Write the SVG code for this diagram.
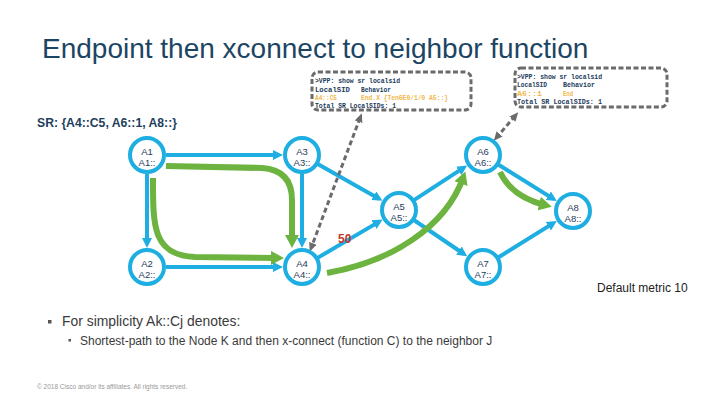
<svg xmlns="http://www.w3.org/2000/svg" width="720" height="405" viewBox="0 0 720 405">
<style>
.node circle{fill:#fff;stroke:#1eaee2;stroke-width:4}
.node text{font-family:"Liberation Sans",Arial,sans-serif;font-size:9.5px;fill:#1d3d5c;text-anchor:middle}
.blue{stroke:#1eaee2;stroke-width:4;fill:none;marker-end:url(#ab)}
.green{stroke:#6db33f;stroke-width:6;fill:none;marker-end:url(#ag)}
.dash{stroke:#6b6b6b;stroke-width:3;fill:none;stroke-dasharray:5,3;marker-start:url(#ad);marker-end:url(#ad)}
.box{fill:#fff;stroke:#6b6b6b;stroke-width:3;stroke-dasharray:5,2.5}
.term{font-family:"Liberation Mono","DejaVu Sans Mono",monospace;font-size:7px;font-weight:bold;fill:#1d3d5c}
.y{fill:#f0b84a}
</style>
<defs>
<marker id="ab" markerUnits="userSpaceOnUse" markerWidth="10" markerHeight="10" refX="6" refY="5" orient="auto"><path d="M0,0 L10,5 L0,10 z" fill="#1eaee2"/></marker>
<marker id="ag" markerUnits="userSpaceOnUse" markerWidth="13" markerHeight="14" refX="6" refY="7" orient="auto"><path d="M0,0 L13,7 L0,14 z" fill="#6db33f"/></marker>
<marker id="ad" markerUnits="userSpaceOnUse" markerWidth="9" markerHeight="8" refX="4" refY="4" orient="auto-start-reverse"><path d="M0,0 L9,4 L0,8 z" fill="#6b6b6b"/></marker>
</defs>
<rect width="720" height="405" fill="#fff"/>
<text x="42" y="58" font-family="Liberation Sans,Arial,sans-serif" font-size="28" fill="#1c4563">Endpoint then xconnect to neighbor function</text>
<text x="37" y="127" font-family="Liberation Sans,Arial,sans-serif" font-size="12.2" font-weight="bold" fill="#1d3d5c">SR: {A4::C5, A6::1, A8::}</text>

<g id="terminal1">
<rect class="box" x="312" y="72" width="159" height="38" rx="6"/>
<text class="term" x="315" y="82.5" textLength="85" lengthAdjust="spacingAndGlyphs">&gt;VPP: show sr localsid</text>
<text class="term" x="315" y="91.5" textLength="35" lengthAdjust="spacingAndGlyphs">LocalSID</text>
<text class="term" x="361" y="91.5" textLength="30" lengthAdjust="spacingAndGlyphs">Behavior</text>
<text class="term y" x="315" y="99.5" textLength="22" lengthAdjust="spacingAndGlyphs">A4::C5</text>
<text class="term y" x="361" y="99.5" textLength="87" lengthAdjust="spacingAndGlyphs">End.X {TenGE0/1/0 A5::}</text>
<text class="term" x="315" y="107.5" textLength="81" lengthAdjust="spacingAndGlyphs">Total SR LocalSIDs: 1</text>
</g>
<g id="terminal2">
<rect class="box" x="515" y="68" width="152" height="39" rx="6"/>
<text class="term" x="517" y="78.5" textLength="85" lengthAdjust="spacingAndGlyphs">&gt;VPP: show sr localsid</text>
<text class="term" x="517" y="87" textLength="30" lengthAdjust="spacingAndGlyphs">LocalSID</text>
<text class="term" x="563" y="87" textLength="32" lengthAdjust="spacingAndGlyphs">Behavior</text>
<text class="term y" x="517" y="95.5" textLength="25" lengthAdjust="spacingAndGlyphs">A6::1</text>
<text class="term y" x="563" y="95.5" textLength="10" lengthAdjust="spacingAndGlyphs">End</text>
<text class="term" x="517" y="104" textLength="85" lengthAdjust="spacingAndGlyphs">Total SR LocalSIDs: 1</text>
</g>

<g id="connectors">
<line class="blue" x1="166" y1="155" x2="279" y2="155"/>
<line class="blue" x1="147" y1="174" x2="147" y2="244"/>
<line class="blue" x1="302" y1="174" x2="302" y2="244"/>
<line class="blue" x1="166" y1="267" x2="279" y2="267"/>
<line class="blue" x1="316.8" y1="163.4" x2="379" y2="198.7"/>
<line class="blue" x1="316.7" y1="258.4" x2="379.2" y2="221.6"/>
<line class="blue" x1="413.2" y1="200.7" x2="463.8" y2="167.6"/>
<line class="blue" x1="413.1" y1="219.5" x2="463.9" y2="254"/>
<line class="blue" x1="497.4" y1="164" x2="553.4" y2="198.9"/>
<line class="blue" x1="497.4" y1="258" x2="553.4" y2="223.1"/>
<text x="338" y="243" font-family="Liberation Sans,Arial,sans-serif" font-size="12" font-weight="bold" fill="#c0392b">50</text>
<path class="green" d="M166,166 L262,168 Q292,170 292,200 L292,241"/>
<path class="green" d="M153,178 C153,225 152,255 195,257 L277,258"/>
<path class="green" d="M327,273 C390,262 445,228 463,178"/>
<path class="green" d="M500,172 Q512,197 545,205"/>
<line class="dash" x1="360" y1="118" x2="311.5" y2="247"/>
<line class="dash" x1="515" y1="116" x2="497" y2="137"/>
</g>

<g id="A1" class="node"><circle cx="147" cy="155" r="17"/><text x="147" y="155">A1</text><text x="147" y="166">A1::</text></g>
<g id="A3" class="node"><circle cx="302" cy="155" r="17"/><text x="302" y="155">A3</text><text x="302" y="166">A3::</text></g>
<g id="A6" class="node"><circle cx="483" cy="155" r="17"/><text x="483" y="155">A6</text><text x="483" y="166">A6::</text></g>
<g id="A5" class="node"><circle cx="399" cy="210" r="17"/><text x="399" y="210">A5</text><text x="399" y="221">A5::</text></g>
<g id="A8" class="node"><circle cx="573" cy="211" r="17"/><text x="573" y="211">A8</text><text x="573" y="222">A8::</text></g>
<g id="A2" class="node"><circle cx="147" cy="267" r="17"/><text x="147" y="267">A2</text><text x="147" y="278">A2::</text></g>
<g id="A4" class="node"><circle cx="302" cy="267" r="17"/><text x="302" y="267">A4</text><text x="302" y="278">A4::</text></g>
<g id="A7" class="node"><circle cx="483" cy="267" r="17"/><text x="483" y="267">A7</text><text x="483" y="278">A7::</text></g>

<text x="597" y="292" font-family="Liberation Sans,Arial,sans-serif" font-size="12" fill="#222">Default metric 10</text>
<rect x="48" y="320" width="3.5" height="3.5" fill="#555"/>
<text x="62" y="326" font-family="Liberation Sans,Arial,sans-serif" font-size="13.9" fill="#3a3a3a">For simplicity Ak::Cj denotes:</text>
<rect x="68.5" y="339" width="2.5" height="2.5" fill="#555"/>
<text x="80" y="345" font-family="Liberation Sans,Arial,sans-serif" font-size="12" fill="#3a3a3a">Shortest-path to the Node K and then x-connect (function C) to the neighbor J</text>
<text x="37" y="389" font-family="Liberation Sans,Arial,sans-serif" font-size="6.5" fill="#999">© 2018 Cisco and/or its affiliates. All rights reserved.</text>
</svg>
